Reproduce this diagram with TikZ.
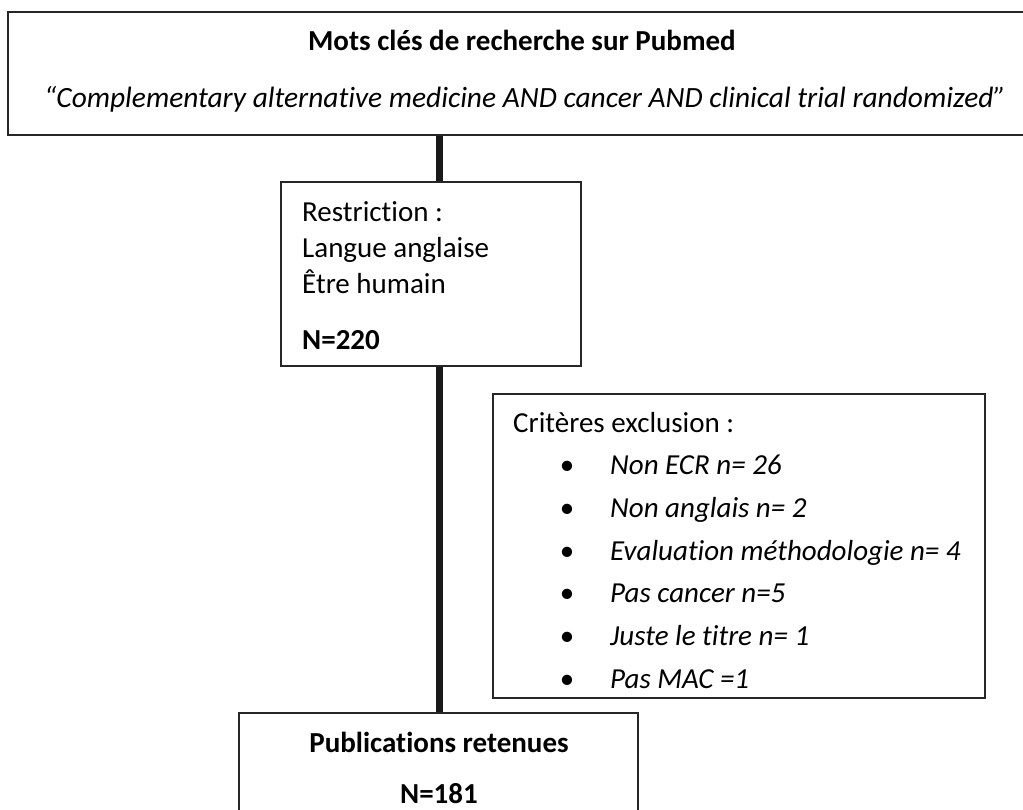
\documentclass[tikz,border=0pt]{standalone}
\usepackage{fontspec}
\setmainfont{Carlito}[Ligatures={NoCommon}]
\begin{document}
\begin{tikzpicture}[x=1pt,y=-1pt,
  box/.style={draw=black!85, line width=1.8pt, rectangle, inner sep=0pt},
  conn/.style={line width=7pt, black!90},
  txt/.style={inner sep=0pt, font=\fontsize{29}{36}\selectfont},
  bul/.style={inner sep=0pt, font=\fontsize{29}{36}\selectfont}]
\useasboundingbox (0,0) rectangle (1023,809);
\clip (0,0) rectangle (1023,809);
% boxes
\node[box, minimum width=1022pt, minimum height=123pt] (top) at (519,73.5) {};
\node[box, minimum width=300pt, minimum height=184pt] (restr) at (431,274) {};
\node[box, minimum width=492pt, minimum height=304pt] (exc) at (739,546) {};
\node[box, minimum width=399pt, minimum height=130pt] (bot) at (438.5,778) {};
% connectors
\coordinate (spine) at (439,0);
\draw[conn] (top.south -| spine) -- (restr.north -| spine);
\draw[conn] (restr.south -| spine) -- (bot.north -| spine);
% top texts
\node[txt, anchor=base, font=\fontsize{29}{36}\selectfont\bfseries] (t1) at (522,50) {Mots clés de recherche sur Pubmed};
\node[txt, anchor=base, font=\fontsize{29.4}{36}\selectfont\itshape] (t2) at (525,107) {“Complementary alternative medicine AND cancer AND clinical trial randomized”};
% restriction texts
\node[txt, anchor=base west] (r1) at (302,221) {Restriction :};
\node[txt, anchor=base west] (r2) at (302,257) {Langue anglaise};
\node[txt, anchor=base west] (r3) at (302,293) {Être humain};
\node[txt, anchor=base west, font=\fontsize{29}{36}\selectfont\bfseries] (r4) at (302,349) {N=220};
% exclusion texts
\begin{scope}
\clip (exc.north west) rectangle ([yshift=-10pt]exc.south east);
\node[txt, anchor=base west] (e0) at (513,432) {Critères exclusion :};
\foreach \y/\t [count=\i] in {474/{Non ECR n= 26}, 517/{Non anglais n= 2}, 560/{Evaluation méthodologie n= 4}, 602/{Pas cancer n=5}, 645/{Juste le titre n= 1}, 688/{Pas MAC =1}}{
  \node[bul, anchor=base] (b\i) at (567,\y) {•};
  \node[txt, anchor=base west, font=\fontsize{29}{36}\selectfont\itshape] (e\i) at (610,\y) {\t};
}
\end{scope}
% bottom texts
\node[txt, anchor=base, font=\fontsize{29}{36}\selectfont\bfseries] (p1) at (439,752) {Publications retenues};
\node[txt, anchor=base, font=\fontsize{29}{36}\selectfont\bfseries] (p2) at (439,803) {N=181};
\end{tikzpicture}
\end{document}
